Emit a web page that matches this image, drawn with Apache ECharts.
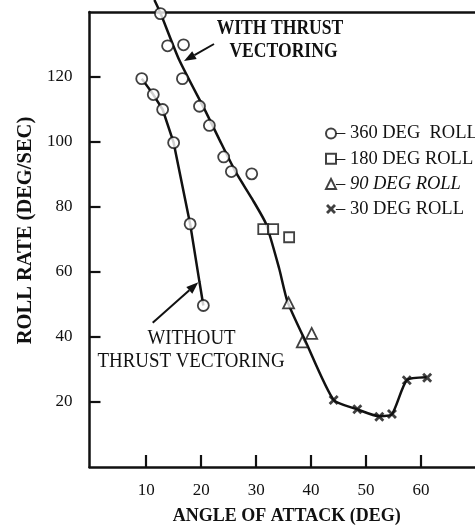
<!DOCTYPE html>
<html>
<head>
<meta charset="utf-8">
<script src="https://cdn.jsdelivr.net/npm/echarts@6/dist/echarts.min.js"></script>
<style>
  html, body { margin: 0; padding: 0; background: #fff; }
  #chart { width: 475px; height: 530px; }
</style>
</head>
<body>
<div id="chart"></div>
<script>
// Roll rate versus angle of attack, with and without thrust vectoring.

const xTickValues = [10, 20, 30, 40, 50, 60];
const yTickValues = [20, 40, 60, 80, 100, 120];

// Faired curve through the thrust-vectoring data [AOA deg, roll rate deg/s]
const withTvCurve = [
  [11.5, 143.7], [12.6, 139.7], [16.0, 125.3], [20.9, 109.1], [23.3, 100.8],
  [26.3, 90.7], [29.3, 82.4], [31.8, 74.8], [34.2, 61.0], [35.7, 50.9],
  [39.0, 38.6], [44.1, 20.6], [48.3, 17.8], [52.4, 15.6], [54.7, 16.2],
  [57.4, 26.7], [61.0, 27.6]
];

// Curve through the data without thrust vectoring
const withoutTvCurve = [
  [9.2, 119.5], [11.3, 114.6], [13.0, 110.0], [15.0, 99.8], [18.0, 74.8],
  [19.7, 56.9], [20.4, 49.7]
];

// Test points grouped by roll amplitude
const roll360 = [
  // with thrust vectoring
  [12.6, 139.5], [13.9, 129.6], [16.8, 129.9], [16.6, 119.5], [19.7, 111.0],
  [21.5, 105.1], [24.1, 95.4], [25.5, 90.9], [29.2, 90.2],
  // without thrust vectoring
  [9.2, 119.5], [11.3, 114.6], [13.0, 110.0], [15.0, 99.8], [18.0, 74.8],
  [20.4, 49.7]
];
const roll180 = [[31.3, 73.2], [33.1, 73.2], [36.0, 70.7]];
const roll90 = [[35.9, 50.5], [38.4, 38.5], [40.1, 41.1]];
const roll30 = [[44.1, 20.6], [48.4, 17.8], [52.4, 15.5], [54.7, 16.3], [57.4, 26.7], [61.1, 27.5]];

const rollNames = ['360 DEG  ROLL', '180 DEG ROLL', '90 DEG ROLL', '30 DEG ROLL'];

const FONT = '"Liberation Serif", "Times New Roman", serif';
const INK = '#111';

const chart = echarts.init(document.getElementById('chart'), null, { renderer: 'canvas' });

const openMarker = { color: '#fff', borderColor: INK, borderWidth: 1.8 };
const crossPath = 'path://M2,0 L5,3 L8,0 L10,2 L7,5 L10,8 L8,10 L5,7 L2,10 L0,8 L3,5 L0,2 Z';

// Arrow helper: shaft plus filled head pointing at (x2, y2)
function arrow(x1, y1, x2, y2) {
  const a = Math.atan2(y2 - y1, x2 - x1);
  const len = 12, half = 4.5;
  const bx = x2 - len * Math.cos(a), by = y2 - len * Math.sin(a);
  const px = -Math.sin(a) * half, py = Math.cos(a) * half;
  return [
    { type: 'line', shape: { x1: x1, y1: y1, x2: bx, y2: by }, style: { stroke: INK, lineWidth: 2 } },
    { type: 'polygon', shape: { points: [[x2, y2], [bx + px, by + py], [bx - px, by - py]] }, style: { fill: INK } }
  ];
}

function label(text, x, y, size, weight, sx) {
  return {
    type: 'text', x: x, y: y, scaleX: sx, scaleY: 1,
    style: { text: text, fill: INK, font: weight + ' ' + size + 'px ' + FONT, align: 'center', verticalAlign: 'middle' }
  };
}

const option = {
  backgroundColor: '#fff',
  animation: false,
  grid: { left: 89.5, top: 12, width: 386.7, height: 457 },
  xAxis: [{
    type: 'value', min: -0.3, max: 69.8,
    name: 'ANGLE OF ATTACK (DEG)', nameLocation: 'middle', nameGap: 40,
    nameTextStyle: { fontFamily: FONT, fontSize: 18, fontWeight: 'bold', color: INK, padding: [0, 0, 0, 9] },
    axisLine: { show: true, onZero: false, lineStyle: { color: INK, width: 2.5 } },
    axisTick: { show: true, inside: true, length: 12, customValues: xTickValues, lineStyle: { color: INK, width: 2.2 } },
    axisLabel: { customValues: xTickValues, margin: 15, fontFamily: FONT, fontSize: 17, color: INK },
    splitLine: { show: false }
  }, {
    type: 'value', position: 'top', min: -0.3, max: 69.8,
    axisLine: { show: true, onZero: false, lineStyle: { color: INK, width: 2.5 } },
    axisTick: { show: false }, axisLabel: { show: false }, splitLine: { show: false }
  }],
  yAxis: {
    type: 'value', min: 0, max: 140,
    name: 'ROLL RATE (DEG/SEC)', nameLocation: 'middle', nameGap: 41,
    nameTextStyle: { fontFamily: FONT, fontSize: 20.5, fontWeight: 'bold', color: INK, padding: [0, 0, 0, 18] },
    axisLine: { show: true, onZero: false, lineStyle: { color: INK, width: 2.5 } },
    axisTick: { show: true, inside: true, length: 11, customValues: yTickValues, lineStyle: { color: INK, width: 2.2 } },
    axisLabel: { customValues: yTickValues, margin: 17, fontFamily: FONT, fontSize: 17, color: INK },
    splitLine: { show: false }
  },
  legend: {
    orient: 'vertical', left: 325, top: 124, padding: 0,
    itemWidth: 10, itemHeight: 10, itemGap: 6.2,
    selectedMode: false,
    data: rollNames,
    formatter: function (name) {
      return name === rollNames[2] ? '{it|– ' + name + '}' : '– ' + name;
    },
    textStyle: {
      fontFamily: FONT, fontSize: 18.5, color: INK, padding: [0, 0, 0, -5],
      rich: { it: { fontFamily: FONT, fontSize: 18.5, fontStyle: 'italic', color: INK } }
    }
  },
  series: [
    {
      type: 'line', name: 'with thrust vectoring', data: withTvCurve, smooth: 0.2,
      showSymbol: false, clip: false, silent: true, z: 2,
      lineStyle: { color: INK, width: 2.5 }
    },
    {
      type: 'line', name: 'without thrust vectoring', data: withoutTvCurve,
      showSymbol: false, clip: false, silent: true, z: 2,
      lineStyle: { color: INK, width: 2.5 }
    },
    { type: 'scatter', name: rollNames[0], data: roll360, symbol: 'circle', symbolSize: 11, clip: false, z: 3, itemStyle: openMarker },
    { type: 'scatter', name: rollNames[1], data: roll180, symbol: 'rect', symbolSize: 10, clip: false, z: 3, itemStyle: openMarker },
    { type: 'scatter', name: rollNames[2], data: roll90, symbol: 'triangle', symbolSize: 11, clip: false, z: 3, itemStyle: openMarker },
    { type: 'scatter', name: rollNames[3], data: roll30, symbol: crossPath, symbolSize: 10, clip: false, z: 3, itemStyle: { color: INK } }
  ],
  graphic: [
    label('WITH THRUST', 280, 28, 22, 'bold', 0.8),
    label('VECTORING', 283.5, 51.5, 22, 'bold', 0.8),
    label('WITHOUT', 191.5, 338, 21, 'normal', 0.9),
    label('THRUST VECTORING', 191, 361, 21, 'normal', 0.9)
  ].concat(arrow(214, 44, 184, 61), arrow(152.7, 322.7, 198.3, 282.3))
};

chart.setOption(option);
</script>
</body>
</html>
